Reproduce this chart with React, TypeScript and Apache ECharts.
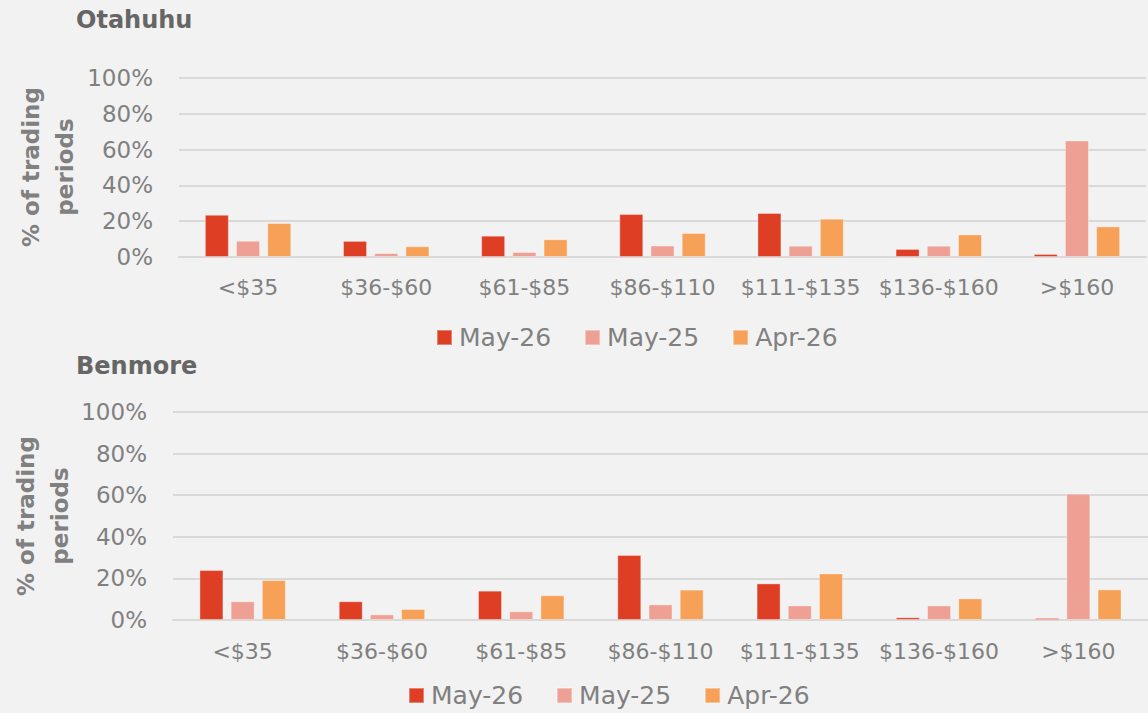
import React, { useEffect, useRef } from "react";
import * as echarts from "echarts";

const categories = ["<$35", "$36-$60", "$61-$85", "$86-$110", "$111-$135", "$136-$160", ">$160"];
const seriesNames = ["May-26", "May-25", "Apr-26"];
const yTicks = [0, 20, 40, 60, 80, 100];

const otahuhuMay26 = [23.6, 9.0, 11.9, 24.0, 24.6, 4.5, 1.7];
const otahuhuMay25 = [9.1, 2.2, 2.8, 6.4, 6.3, 6.3, 65.1];
const otahuhuApr26 = [19.0, 6.0, 9.9, 13.4, 21.4, 12.6, 17.1];

const benmoreMay26 = [24.0, 9.0, 14.1, 31.3, 17.6, 1.3, 1.0];
const benmoreMay25 = [9.0, 2.7, 4.2, 7.5, 7.0, 7.0, 60.7];
const benmoreApr26 = [19.2, 5.3, 11.9, 14.6, 22.4, 10.4, 14.7];

const colors = ["#de3e24", "#eda093", "#f6a157"];
const FONT = "DejaVu Sans";
const TXT = "#808080";

export default function App() {
  const ref = useRef<HTMLDivElement>(null);
  useEffect(() => {
    document.body.style.margin = "0";
    document.body.style.background = "#f2f2f2";
    const chart = echarts.init(ref.current!, null, { renderer: "svg" });

    const xAxis = (gi: number) => ({
      type: "category",
      gridIndex: gi,
      data: categories,
      axisLine: { show: true, lineStyle: { color: "#d9d9d9", width: 2 } },
      axisTick: { show: false },
      axisLabel: { color: TXT, fontFamily: FONT, fontSize: 22, interval: 0, margin: gi === 0 ? 19 : 20 },
    });
    const yAxis = (gi: number) => ({
      type: "value",
      gridIndex: gi,
      min: yTicks[0],
      max: yTicks[yTicks.length - 1],
      interval: 20,
      axisLine: { show: false },
      axisTick: { show: false },
      splitLine: { lineStyle: { color: "#d9d9d9", width: 2 } },
      axisLabel: { color: TXT, fontFamily: FONT, fontSize: 23, margin: 26, formatter: "{value}%" },
    });
    const groups = [
      [otahuhuMay26, otahuhuMay25, otahuhuApr26],
      [benmoreMay26, benmoreMay25, benmoreApr26],
    ];
    const series: any[] = [];
    groups.forEach((g, gi) => {
      g.forEach((data, si) => {
        series.push({
          type: "bar",
          name: seriesNames[si],
          xAxisIndex: gi,
          yAxisIndex: gi,
          data,
          barWidth: 24,
          barGap: "30%",
          itemStyle: { color: colors[si], borderColor: "rgba(255,255,255,0.35)", borderWidth: 1 },
        });
      });
    });
    const legend = (left: number, top: number) => ({
      left,
      top,
      padding: 0,
      itemWidth: 15,
      itemHeight: 15,
      itemGap: 33,
      icon: "rect",
      data: seriesNames,
      textStyle: { color: TXT, fontFamily: FONT, fontSize: 25, padding: [0, 0, 0, 2] },
    });
    const yName = (x: number, y: number) => ({
      type: "text",
      x,
      y,
      rotation: Math.PI / 2,
      style: {
        text: "% of trading\nperiods",
        align: "center",
        verticalAlign: "middle",
        fill: TXT,
        font: `bold 23px "${FONT}"`,
        lineHeight: 34,
      },
    });

    chart.setOption({
      animation: false,
      backgroundColor: "#f2f2f2",
      title: [
        { text: "Otahuhu", left: 76, top: 8, padding: 0, textStyle: { color: "#666666", fontFamily: FONT, fontWeight: "bold", fontSize: 24 } },
        { text: "Benmore", left: 76, top: 354, padding: 0, textStyle: { color: "#666666", fontFamily: FONT, fontWeight: "bold", fontSize: 24 } },
      ],
      legend: [legend(436, 325), legend(408, 683)],
      grid: [
        { left: 179, right: 2, top: 78, height: 179, containLabel: false },
        { left: 173, right: 0, top: 412, height: 208, containLabel: false },
      ],
      xAxis: [xAxis(0), xAxis(1)],
      yAxis: [yAxis(0), yAxis(1)],
      series,
      graphic: [yName(48, 167), yName(43, 516)],
    });
    return () => chart.dispose();
  }, []);
  return <div ref={ref} style={{ width: 1148, height: 713 }} />;
}
